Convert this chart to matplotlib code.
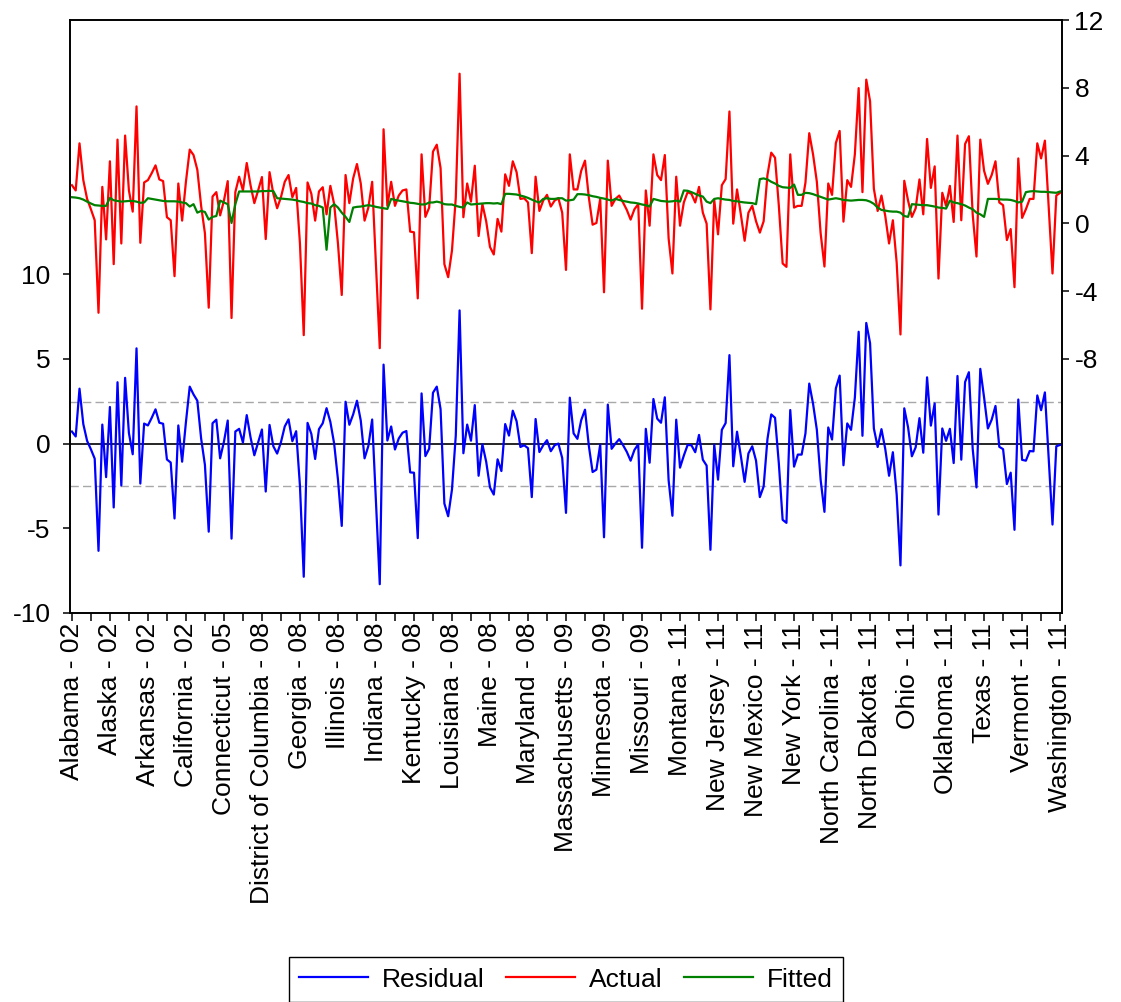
import matplotlib.pyplot as plt
import numpy as np

plt.rcParams["font.family"] = ["Liberation Sans", "DejaVu Sans"]
plt.rcParams["axes.unicode_minus"] = False

# --- Data ---
tick_labels = [
    "Alabama - 02", "Alaska - 02", "Arkansas - 02", "California - 02",
    "Connecticut - 05", "District of Columbia - 08", "Georgia - 08",
    "Illinois - 08", "Indiana - 08", "Kentucky - 08", "Louisiana - 08",
    "Maine - 08", "Maryland - 08", "Massachusetts - 09", "Minnesota - 09",
    "Missouri - 09", "Montana - 11", "New Jersey - 11", "New Mexico - 11",
    "New York - 11", "North Carolina - 11", "North Dakota - 11", "Ohio - 11",
    "Oklahoma - 11", "Texas - 11", "Vermont - 11", "Washington - 11",
]

actual = [
    2.25, 1.94, 4.72, 2.55, 1.44, 0.83, 0.18, -5.28, 2.15, -0.95,
    3.66, -2.41, 4.94, -1.19, 5.18, 1.94, 0.69, 6.90, -1.15, 2.41,
    2.55, 2.96, 3.42, 2.59, 2.49, 0.36, 0.18, -3.12, 2.35, 0.16,
    2.45, 4.35, 4.03, 3.16, 1.03, -0.59, -4.98, 1.58, 1.84, 0.47,
    1.34, 2.49, -5.59, 1.84, 2.75, 1.94, 3.56, 2.25, 1.19, 1.94,
    2.73, -0.93, 3.02, 1.74, 0.89, 1.54, 2.45, 2.85, 1.54, 2.09,
    -1.19, -6.60, 2.41, 1.74, 0.16, 1.88, 2.13, 0.53, 2.21, 1.13,
    -1.19, -4.23, 2.85, 1.19, 2.65, 3.50, 2.35, 0.16, 0.93, 2.45,
    -2.41, -7.37, 5.55, 1.03, 2.45, 1.03, 1.64, 1.94, 2.00, -0.49,
    -0.53, -4.43, 4.07, 0.38, 0.93, 4.23, 4.64, 3.26, -2.41, -3.18,
    -1.60, 1.50, 8.83, 0.36, 2.35, 1.28, 3.40, -0.75, 1.13, 0.12,
    -1.40, -1.84, 0.26, -0.49, 2.89, 2.21, 3.66, 3.02, 1.44, 1.48,
    1.23, -1.76, 2.75, 0.73, 1.34, 1.68, 0.99, 1.34, 1.48, 0.63,
    -2.75, 4.07, 2.00, 2.00, 3.10, 3.70, 1.54, -0.08, 0.02, 1.44,
    -4.07, 3.70, 1.03, 1.44, 1.64, 1.23, 0.79, 0.22, 0.83, 1.13,
    -5.04, 1.94, -0.14, 4.07, 2.85, 2.55, 4.03, -0.89, -2.96, 2.75,
    -0.14, 1.23, 1.84, 1.74, 1.23, 2.15, 0.63, -0.02, -5.08, 1.38,
    -0.65, 2.25, 2.61, 6.60, -0.02, 2.00, 0.53, -1.03, 0.63, 1.03,
    0.12, -0.55, 0.12, 2.85, 4.17, 3.87, 1.03, -2.37, -2.57, 4.07,
    0.93, 1.03, 1.03, 2.40, 5.32, 4.07, 2.45, -0.59, -2.55, 2.35,
    1.68, 4.74, 5.45, 0.10, 2.55, 2.15, 4.07, 7.98, 1.84, 8.48,
    7.21, 2.04, 0.73, 1.64, 0.43, -1.19, 0.18, -2.31, -6.56, 2.51,
    1.34, 0.38, 0.89, 2.59, 0.53, 4.98, 2.09, 3.36, -3.26, 1.80,
    1.03, 2.21, 0.08, 5.18, 0.18, 4.68, 5.14, 0.53, -1.96, 4.94,
    3.10, 2.33, 2.85, 3.66, 1.23, 1.07, -0.99, -0.34, -3.77, 3.83,
    0.32, 0.83, 1.44, 1.44, 4.72, 3.83, 4.88, 0.93, -2.96, 1.64,
    1.80,
]

fitted = [
    1.54, 1.52, 1.48, 1.40, 1.28, 1.17, 1.07, 1.05, 1.03, 1.03,
    1.50, 1.36, 1.32, 1.28, 1.30, 1.32, 1.32, 1.28, 1.21, 1.23,
    1.48, 1.44, 1.40, 1.36, 1.32, 1.30, 1.30, 1.30, 1.28, 1.23,
    1.19, 0.99, 1.13, 0.63, 0.73, 0.67, 0.22, 0.38, 0.43, 1.34,
    1.23, 1.13, 0.02, 1.13, 1.88, 1.88, 1.88, 1.88, 1.88, 1.88,
    1.90, 1.90, 1.92, 1.90, 1.48, 1.46, 1.44, 1.42, 1.40, 1.36,
    1.30, 1.26, 1.19, 1.17, 1.07, 1.03, 0.93, -1.56, 0.93, 1.13,
    0.93, 0.63, 0.38, 0.08, 0.93, 0.97, 0.99, 1.03, 1.07, 1.03,
    0.97, 0.93, 0.89, 0.85, 1.44, 1.38, 1.34, 1.30, 1.26, 1.21,
    1.19, 1.15, 1.11, 1.12, 1.23, 1.23, 1.28, 1.23, 1.13, 1.11,
    1.11, 1.03, 0.97, 0.93, 1.23, 1.11, 1.13, 1.15, 1.17, 1.19,
    1.19, 1.17, 1.19, 1.13, 1.74, 1.74, 1.72, 1.70, 1.64, 1.58,
    1.50, 1.40, 1.30, 1.23, 1.44, 1.48, 1.44, 1.44, 1.48, 1.48,
    1.34, 1.36, 1.40, 1.72, 1.72, 1.70, 1.66, 1.60, 1.56, 1.50,
    1.46, 1.40, 1.34, 1.44, 1.38, 1.32, 1.28, 1.23, 1.21, 1.17,
    1.11, 1.07, 0.99, 1.44, 1.38, 1.32, 1.30, 1.28, 1.30, 1.34,
    1.28, 1.94, 1.92, 1.84, 1.74, 1.64, 1.58, 1.28, 1.19, 1.44,
    1.48, 1.44, 1.40, 1.38, 1.32, 1.30, 1.26, 1.23, 1.21, 1.19,
    1.13, 2.61, 2.65, 2.59, 2.45, 2.35, 2.21, 2.13, 2.11, 2.09,
    2.29, 1.68, 1.68, 1.80, 1.78, 1.72, 1.64, 1.56, 1.48, 1.40,
    1.44, 1.48, 1.44, 1.38, 1.36, 1.34, 1.36, 1.38, 1.38, 1.36,
    1.28, 1.15, 0.93, 0.79, 0.75, 0.71, 0.69, 0.69, 0.63, 0.43,
    0.38, 1.13, 1.11, 1.09, 1.07, 1.07, 1.03, 0.99, 0.93, 0.91,
    0.87, 1.34, 1.23, 1.19, 1.13, 1.05, 0.93, 0.83, 0.63, 0.53,
    0.38, 1.44, 1.44, 1.44, 1.42, 1.40, 1.40, 1.38, 1.32, 1.23,
    1.28, 1.84, 1.88, 1.90, 1.88, 1.86, 1.86, 1.84, 1.82, 1.80,
    1.88,
]

se_band = 2.48  # +/- 1 S.E. lines on the residual axis

actual = np.array(actual)
fitted = np.array(fitted)
residual = actual - fitted
obs = np.arange(len(actual))

# --- Figure ---
W, H = 1121, 1002
fig = plt.figure(figsize=(W / 100, H / 100), dpi=100)
ax = fig.add_axes([70 / W, 1 - 613 / H, 992 / W, 593 / H])
ax2 = ax.twinx()

# residual on the left scale
ax.axhline(0, color="black", lw=1.2, zorder=1)
for lvl in (se_band, -se_band):
    ax.axhline(lvl, color="#a8a8a8", lw=1.0, ls=(0, (6, 3)), zorder=1)
line_res, = ax.plot(obs, residual, color="#0000ff", lw=1.6, label="Residual")

# actual and fitted on the right scale
line_act, = ax2.plot(obs, actual, color="#ff0000", lw=1.6, label="Actual")
line_fit, = ax2.plot(obs, fitted, color="#008000", lw=1.6, label="Fitted")

ax.set_xlim(-0.5, len(obs) - 0.5)
ax.set_ylim(-10, 25)
ax2.set_ylim(-23, 12)
ax.set_yticks([-10, -5, 0, 5, 10])
ax2.set_yticks([-8, -4, 0, 4, 8, 12])

ax.set_xticks(obs[::10])
ax.set_xticklabels(tick_labels, rotation=90)
ax.set_xticks(obs[5::10], minor=True)

ax.tick_params(axis="x", which="both", direction="out", length=6, width=1.1,
               labelsize=19, pad=1)
ax.tick_params(axis="y", direction="out", length=5, width=1.1,
               labelsize=19, pad=9)
ax2.tick_params(axis="y", direction="out", length=5, width=1.1,
                labelsize=19, pad=4)

for a in (ax, ax2):
    for sp in a.spines.values():
        sp.set_linewidth(1.2)
        sp.set_color("black")

# --- Legend ---
leg = fig.legend(
    [line_res, line_act, line_fit], ["Residual", "Actual", "Fitted"],
    loc="upper center", bbox_to_anchor=(566 / W, 1 - 957 / H), ncol=3,
    fontsize=19, frameon=True, fancybox=False, edgecolor="black",
    framealpha=1, handlelength=2.6, handletextpad=0.55, columnspacing=0.8,
    borderpad=0.4, borderaxespad=0,
)
leg.get_frame().set_linewidth(1.0)

fig.savefig("out.png", dpi=100)
